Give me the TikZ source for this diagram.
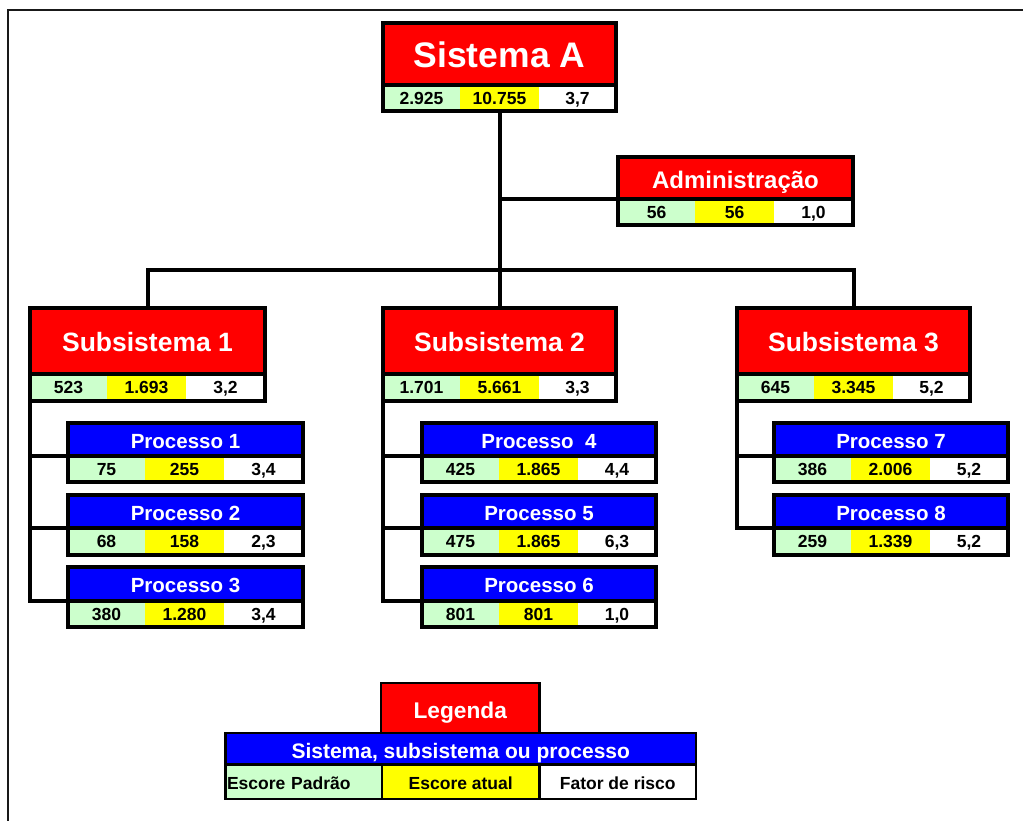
\documentclass[tikz,border=0pt]{standalone}
\usepackage{fontspec}
\setmainfont{Liberation Sans}

\definecolor{hdrred}{RGB}{255,0,0}
\definecolor{hdrblue}{RGB}{0,0,255}
\definecolor{scoregreen}{RGB}{204,255,204}
\definecolor{scoreyellow}{RGB}{255,255,0}

% values of the three score cells of a block
\newcommand{\setvals}[3]{\def\valA{#1}\def\valB{#2}\def\valC{#3}}

% #1 name, #2 left, #3 right, #4 top, #5 separator, #6 bottom,
% #7 header style, #8 title, #9 {standard}{current}{risk factor}
\newcommand{\riskblock}[9]{%
  \setvals#9%
  \node[#7, minimum width={#3-#2}, minimum height={#5-#4}] (#1) at ({(#2+#3)/2},{(#4+#5)/2}) {#8};
  \node[val, fill=scoregreen, minimum width=77, minimum height={#6-#5}] (#1-a) at ({#2+38.5},{(#5+#6)/2}) {\valA};
  \node[val, fill=scoreyellow, minimum width=79, minimum height={#6-#5}] (#1-b) at ({#2+116.5},{(#5+#6)/2}) {\valB};
  \node[val, fill=white, minimum width={#3-#2-156}, minimum height={#6-#5}] (#1-c) at ({(#2+156+#3)/2},{(#5+#6)/2}) {\valC};
  \draw[border] (#1.north west) rectangle (#1-c.south east);
  \draw[border] (#1.south west) -- (#1.south east);
}

\begin{document}
\begin{tikzpicture}[x=1pt,y=-1pt,
  border/.style={line width=4pt},
  link/.style={line width=4pt},
  thinborder/.style={line width=2.5pt},
  frame/.style={line width=2pt, black!90},
  cell/.style={inner sep=0pt, outer sep=0pt, anchor=center},
  val/.style={cell, text=black, text height=12.5pt, text depth=0pt,
    font=\bfseries\fontsize{17.5}{18}\selectfont},
  % a taller text box lowers the title a little inside its header
  hdrSys/.style={cell, fill=hdrred, text=white, text height=27.4pt, text depth=0pt,
    font=\bfseries\fontsize{35.5}{36}\selectfont},
  hdrAdm/.style={cell, fill=hdrred, text=white, text height=20.2pt, text depth=0pt,
    font=\bfseries\fontsize{24}{24}\selectfont},
  hdrSub/.style={cell, fill=hdrred, text=white, text height=20pt, text depth=0pt,
    font=\bfseries\fontsize{26.5}{27}\selectfont},
  hdrProc/.style={cell, fill=hdrblue, text=white, text height=18.7pt, text depth=0pt,
    font=\bfseries\fontsize{20.5}{21}\selectfont},
  legtitle/.style={cell, fill=hdrred, text=white, text height=21pt, text depth=0pt,
    font=\bfseries\fontsize{22.7}{23}\selectfont},
  legrow/.style={cell, fill=hdrblue, text=white, text height=18.5pt, text depth=0pt,
    font=\bfseries\fontsize{21}{21}\selectfont},
  legcell/.style={cell, text=black, text height=16pt, text depth=0pt,
    font=\bfseries\fontsize{17.5}{18}\selectfont},
]
\useasboundingbox (0,0) rectangle (1023,821);
\clip (0,0) rectangle (1023,821);
\fill[white] (0,0) rectangle (1023,821);

% outer frame (only top and left edge fall inside the page)
\draw[frame] (8,830) -- (8,10) -- (1035,10);

% system, administration and subsystems
\riskblock{sysA}{383}{616}{23}{85.5}{111}{hdrSys}{Sistema A}{{2.925}{10.755}{3,7}}
\riskblock{adm}{618}{853}{157}{199.5}{225.5}{hdrAdm}{Administração}{{56}{56}{1,0}}
\riskblock{sub1}{30}{265}{308}{374}{400.5}{hdrSub}{Subsistema 1}{{523}{1.693}{3,2}}
\riskblock{sub2}{383}{616}{308}{374}{400.5}{hdrSub}{Subsistema 2}{{1.701}{5.661}{3,3}}
\riskblock{sub3}{737}{970}{308}{374}{400.5}{hdrSub}{Subsistema 3}{{645}{3.345}{5,2}}

% processes
\riskblock{p1}{68}{303}{422.5}{455.5}{482}{hdrProc}{Processo 1}{{75}{255}{3,4}}
\riskblock{p2}{68}{303}{494.5}{527.5}{555}{hdrProc}{Processo 2}{{68}{158}{2,3}}
\riskblock{p3}{68}{303}{566.5}{600.5}{627}{hdrProc}{Processo 3}{{380}{1.280}{3,4}}
\riskblock{p4}{422}{656}{422.5}{455.5}{482}{hdrProc}{Processo\ \ 4}{{425}{1.865}{4,4}}
\riskblock{p5}{422}{656}{494.5}{527.5}{555}{hdrProc}{Processo 5}{{475}{1.865}{6,3}}
\riskblock{p6}{422}{656}{566.5}{600.5}{627}{hdrProc}{Processo 6}{{801}{801}{1,0}}
\riskblock{p7}{774}{1008}{422.5}{455.5}{482}{hdrProc}{Processo 7}{{386}{2.006}{5,2}}
\riskblock{p8}{774}{1008}{494.5}{527.5}{555}{hdrProc}{Processo 8}{{259}{1.339}{5,2}}

% tree connectors
\coordinate (bus) at (499.5,270);
\draw[link] (sysA-b.south) -- (sub2.north);
\draw[link] (sysA-b.south |- adm.south west) -- (adm.south west);
\draw[link] (sub1.north) |- (bus) -| (sub3.north);

\draw[link] (sub1-a.south west) |- (p1.south west);
\draw[link] (sub1-a.south west) |- (p2.south west);
\draw[link] (sub1-a.south west) |- (p3.south west);
\draw[link] (sub2-a.south west) |- (p4.south west);
\draw[link] (sub2-a.south west) |- (p5.south west);
\draw[link] (sub2-a.south west) |- (p6.south west);
\draw[link] (sub3-a.south west) |- (p7.south west);
\draw[link] (sub3-a.south west) |- (p8.south west);

% legend
\node[legtitle, minimum width=158.5, minimum height=50] (leg) at (460.25,708) {Legenda};
\node[legrow, minimum width=470.5, minimum height=31.5] (legrow) at (460.75,748.75) {Sistema, subsistema ou processo};
\node[legcell, fill=scoregreen, text width=153.5pt, align=left, inner xsep=1.5pt,
  minimum height=34.5] (lega) at (303.75,781.75) {Escore Padrão};
\node[legcell, fill=scoreyellow, minimum width=157.5, minimum height=34.5] (legb) at (460.75,781.75) {Escore atual};
\node[legcell, fill=white, minimum width=156.5, minimum height=34.5] (legc) at (617.75,781.75) {Fator de risco};
\draw[thinborder] (leg.north west) rectangle (leg.south east);
\draw[thinborder] (legrow.north west) rectangle (legc.south east);
\draw[thinborder] (legrow.south west) -- (legrow.south east);
\draw[thinborder] (lega.north east) -- (lega.south east);
\draw[thinborder] (legb.north east) -- (legb.south east);
\end{tikzpicture}
\end{document}
